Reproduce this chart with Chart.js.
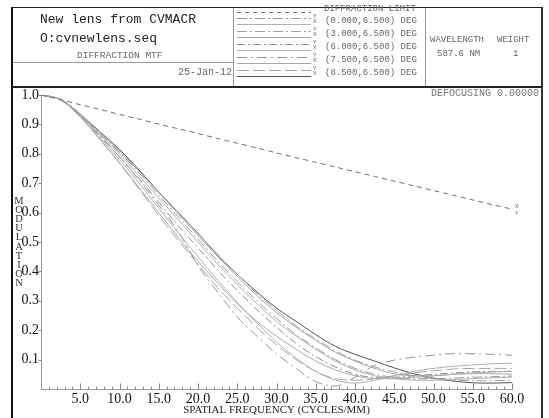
<!DOCTYPE html>
<html><head><meta charset="utf-8">
<script src="https://cdn.jsdelivr.net/npm/chart.js@4/dist/chart.umd.min.js"></script>
<style>
html,body{margin:0;padding:0;background:#fff;width:549px;height:418px;overflow:hidden;}
#wrap{position:relative;width:549px;height:418px;}
#c{position:absolute;left:0;top:0;}
.abs{position:absolute;white-space:nowrap;}
.mono{font-family:'Liberation Mono','DejaVu Sans Mono',monospace;}
.frame{position:absolute;left:11px;top:7px;width:532px;height:430px;border-left:2px solid #111;border-right:2px solid #333;border-top:1.5px solid #222;box-sizing:border-box;}
.hl{position:absolute;height:0;}
.vl{position:absolute;width:0;}
.small{font-size:9px;color:#666;line-height:10px;}
.ylet{position:absolute;left:13px;width:12px;text-align:center;font-family:'Liberation Serif','DejaVu Serif',serif;font-size:10.5px;color:#333;line-height:10px;}
</style></head>
<body><div id="wrap">
<canvas id="c" width="549" height="418"></canvas>
<div class="frame"></div>
<div class="hl" style="left:12px;top:86px;width:530px;border-top:2px solid #222;"></div>
<div class="vl" style="left:233px;top:8px;height:78px;border-left:1px solid #999;"></div>
<div class="vl" style="left:425px;top:8px;height:78px;border-left:1px solid #999;"></div>
<div class="hl" style="left:13px;top:62px;width:220px;border-top:1px solid #999;"></div>
<div class="abs mono" style="left:40px;top:12px;font-size:13px;line-height:16px;color:#222;">New lens from CVMACR</div>
<div class="abs mono" style="left:40px;top:31px;font-size:13px;line-height:16px;color:#222;">O:cvnewlens.seq</div>
<div class="abs mono" style="left:77px;top:50px;font-size:9.5px;line-height:11px;color:#666;">DIFFRACTION MTF</div>
<div class="abs mono" style="left:178px;top:67px;font-size:10px;line-height:12px;color:#666;">25-Jan-12</div>
<svg id="leg" class="abs" style="left:233px;top:7px;" width="192" height="80"></svg>
<div id="legtxt"></div>
<div class="abs mono small" style="left:430px;top:35px;">WAVELENGTH</div>
<div class="abs mono small" style="left:497px;top:35px;">WEIGHT</div>
<div class="abs mono small" style="left:437px;top:49px;">587.6 NM</div>
<div class="abs mono small" style="left:513px;top:49px;">1</div>
<div class="abs mono" style="right:10px;top:88px;font-size:10px;line-height:12px;color:#777;">DEFOCUSING 0.00000</div>
<div id="ytitle"></div>
</div>
<script>
// ---- data ----
const freq = [0,2.5,5,7.5,10,12.5,15,17.5,20,22.5,25,27.5,30,32.5,35,37.5,40,42.5,45,47.5,50,52.5,55,57.5,60];
const diffLimit = [1.0,0.984,0.967,0.951,0.934,0.918,0.901,0.885,0.869,0.852,0.836,0.820,0.803,0.787,0.771,0.755,0.739,0.723,0.707,0.691,0.675,0.659,0.643,0.627,0.612];
const f0Y = [1.0,0.985,0.933,0.868,0.805,0.735,0.660,0.585,0.510,0.435,0.365,0.300,0.240,0.185,0.140,0.100,0.070,0.050,0.040,0.035,0.035,0.037,0.040,0.042,0.044];
const f0X = [1.0,0.985,0.932,0.865,0.800,0.725,0.650,0.575,0.500,0.425,0.355,0.290,0.230,0.180,0.135,0.095,0.065,0.045,0.035,0.030,0.030,0.032,0.035,0.038,0.040];
const f1Y = [1.0,0.985,0.935,0.873,0.812,0.742,0.670,0.600,0.528,0.458,0.390,0.325,0.268,0.215,0.170,0.130,0.098,0.075,0.058,0.045,0.036,0.030,0.028,0.028,0.030];
const f1X = [1.0,0.985,0.934,0.872,0.810,0.740,0.668,0.595,0.522,0.450,0.382,0.318,0.260,0.210,0.165,0.125,0.095,0.070,0.052,0.045,0.045,0.050,0.055,0.058,0.060];
const f2Y = [1.0,0.984,0.930,0.860,0.790,0.715,0.635,0.555,0.480,0.405,0.335,0.270,0.210,0.155,0.110,0.075,0.050,0.040,0.040,0.045,0.050,0.055,0.058,0.060,0.060];
const f2X = [1.0,0.984,0.928,0.855,0.780,0.700,0.615,0.530,0.450,0.370,0.295,0.225,0.160,0.105,0.060,0.030,0.020,0.030,0.045,0.060,0.070,0.077,0.082,0.086,0.088];
const f3Y = [1.0,0.983,0.930,0.862,0.790,0.710,0.625,0.535,0.420,0.330,0.245,0.180,0.120,0.070,0.025,0.010,0.040,0.080,0.098,0.108,0.115,0.120,0.120,0.118,0.115];
const f3X = [1.0,0.984,0.925,0.850,0.770,0.685,0.600,0.515,0.435,0.360,0.290,0.230,0.180,0.135,0.095,0.065,0.045,0.035,0.035,0.040,0.045,0.050,0.052,0.052,0.050];
const f4Y = [1.0,0.983,0.925,0.848,0.768,0.680,0.590,0.505,0.425,0.345,0.275,0.210,0.150,0.100,0.060,0.035,0.030,0.035,0.045,0.055,0.062,0.068,0.070,0.070,0.070];
const f4X = [1.0,0.985,0.935,0.875,0.815,0.745,0.670,0.600,0.530,0.455,0.390,0.330,0.275,0.230,0.185,0.145,0.118,0.095,0.072,0.052,0.037,0.027,0.021,0.020,0.022];
const fieldLabels = ['(0.000,6.500) DEG','(3.000,6.500) DEG','(6.000,6.500) DEG','(7.500,6.500) DEG','(8.500,6.500) DEG'];
const xTicks = [5,10,15,20,25,30,35,40,45,50,55,60];
const yTicks = [0.1,0.2,0.3,0.4,0.5,0.6,0.7,0.8,0.9,1.0];

// ---- styles ----
const styles = [
  {d:f0Y, c:'#9a9a9a', dash:[10,3,2,3]},
  {d:f0X, c:'#b0b0b0', dash:[]},
  {d:f1Y, c:'#a0a0a0', dash:[10,3,2,3]},
  {d:f1X, c:'#a8a8a8', dash:[]},
  {d:f2Y, c:'#909090', dash:[8,3,2,3]},
  {d:f2X, c:'#b0b0b0', dash:[]},
  {d:f3Y, c:'#959595', dash:[10,4,2,4]},
  {d:f3X, c:'#aaaaaa', dash:[]},
  {d:f4Y, c:'#a5a5a5', dash:[12,4]},
  {d:f4X, c:'#555555', dash:[]}
];

const datasets = [{
  label:'DIFFRACTION LIMIT', data: freq.map((f,i)=>({x:f,y:diffLimit[i]})),
  borderColor:'#707070', borderWidth:1, borderDash:[5,4], pointRadius:0, tension:0.3, fill:false
}].concat(styles.map((s,k)=>({
  label:'s'+k, data: freq.map((f,i)=>({x:f,y:s.d[i]})),
  borderColor:s.c, borderWidth:1, borderDash:s.dash, pointRadius:0, cubicInterpolationMode:'monotone', fill:false
})));

// legend (HTML/SVG)
(function(){
  const svg=document.getElementById('leg');
  const NS='http://www.w3.org/2000/svg';
  function line(y,c,dash){const l=document.createElementNS(NS,'line');l.setAttribute('x1',4);l.setAttribute('x2',78);l.setAttribute('y1',y);l.setAttribute('y2',y);l.setAttribute('stroke',c);l.setAttribute('stroke-width',1);if(dash.length)l.setAttribute('stroke-dasharray',dash.join(' '));svg.appendChild(l);}
  line(5.5,'#707070',[4,4]);
  const lt=document.getElementById('legtxt');
  let html='<div class="abs mono small" style="left:324px;top:4px;">DIFFRACTION LIMIT</div>';
  fieldLabels.forEach((t,i)=>{
    const cy=21+13*i;
    line(cy-7+0.5-3,styles[2*i].c,styles[2*i].dash);
    line(cy-7+0.5+3,styles[2*i+1].c,styles[2*i+1].dash);
    html+='<div class="abs mono" style="left:313px;top:'+(cy-7)+'px;font-size:6px;line-height:5px;color:#666;">Y<br>X</div>';
    html+='<div class="abs mono small" style="left:325px;top:'+(cy-5)+'px;">'+t+'</div>';
  });
  lt.innerHTML=html;
  const yt=document.getElementById('ytitle');
  let h='';'MODULATION'.split('').forEach((ch,i)=>{h+='<div class="ylet" style="top:'+(196+9.1*i)+'px;">'+ch+'</div>';});
  yt.innerHTML=h;
})();

const tickPlugin={
  id:'innerTicks',
  afterDraw(chart){
    const ctx=chart.ctx,xs=chart.scales.x,ys=chart.scales.y;
    ctx.save();ctx.strokeStyle='#888';ctx.lineWidth=1;
    const b=Math.round(ys.getPixelForValue(0))+0.5;
    for(let f=1;f<=60;f++){const px=Math.round(xs.getPixelForValue(f))+0.5;const len=(f%5===0)?6:3;ctx.beginPath();ctx.moveTo(px,b);ctx.lineTo(px,b-len);ctx.stroke();}
    const l=Math.round(xs.getPixelForValue(0))+0.5;
    yTicks.forEach(v=>{const py=Math.round(ys.getPixelForValue(v))+0.5;ctx.beginPath();ctx.moveTo(l-3,py);ctx.lineTo(l,py);ctx.stroke();});
    // X/Y tag at end of diffraction limit
    const ex=xs.getPixelForValue(freq[freq.length-1]), ey=ys.getPixelForValue(diffLimit[diffLimit.length-1]);
    ctx.fillStyle='#666';ctx.font='6px "Liberation Mono", monospace';ctx.textBaseline='middle';
    ctx.fillText('X',ex+3,ey-3);ctx.fillText('Y',ex+3,ey+4);
    ctx.restore();
  }
};

new Chart(document.getElementById('c'),{
  type:'line',
  data:{datasets},
  options:{
    responsive:false, animation:false, devicePixelRatio:1,
    layout:{padding:{top:95,right:37,left:0,bottom:0}},
    plugins:{legend:{display:false},tooltip:{enabled:false}},
    scales:{
      x:{type:'linear',min:0,max:60,
        afterFit(s){s.height=29;},
        afterBuildTicks(s){s.ticks=[0].concat(xTicks).map(v=>({value:v}));},
        grid:{display:false,drawTicks:false},
        border:{display:true,color:'#999',width:1},
        ticks:{padding:2,autoSkip:false,maxRotation:0,color:'#111',font:{family:"'Liberation Serif','DejaVu Serif',serif",size:14},callback:v=>v===0?'':v.toFixed(1)},
        title:{display:true,text:'SPATIAL FREQUENCY (CYCLES/MM)',color:'#222',padding:{top:0,bottom:1},font:{family:"'Liberation Serif','DejaVu Serif',serif",size:11}}
      },
      y:{type:'linear',min:0,max:1,
        afterFit(s){s.width=41;},
        afterBuildTicks(s){s.ticks=[0].concat(yTicks).map(v=>({value:v}));},
        grid:{display:false,drawTicks:false},
        border:{display:true,color:'#999',width:1},
        ticks:{padding:2,autoSkip:false,color:'#111',font:{family:"'Liberation Serif','DejaVu Serif',serif",size:14},callback:v=>v===0?'':v.toFixed(1)}
      }
    }
  },
  plugins:[tickPlugin]
});
</script>
</body></html>
